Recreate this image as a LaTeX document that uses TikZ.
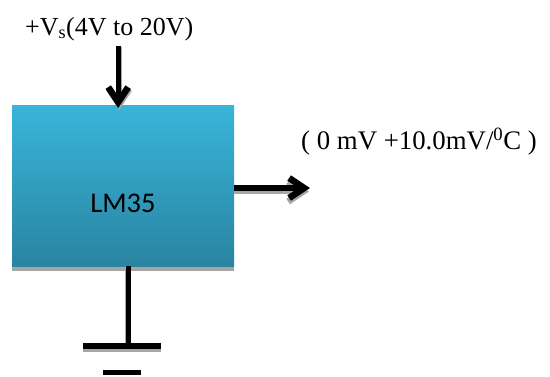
\documentclass[tikz,border=0pt]{standalone}
\usepackage{fontspec}
\setmainfont{Liberation Serif}
\newfontfamily\lblfont{Carlito}
\usetikzlibrary{arrows.meta,positioning}
\definecolor{boxtop}{HTML}{38B5D9}
\definecolor{boxbot}{HTML}{2A84A2}
\definecolor{shadecol}{HTML}{A6A6A6}
\tikzset{
  x=1pt,y=-1pt,
  chip/.style={minimum width=222pt,minimum height=161pt,inner sep=0pt,top color=boxtop,bottom color=boxbot},
  wire/.style={line width=5.4pt,black},
  wireshade/.style={line width=5.4pt,shadecol},
  tip/.style={-{Straight Barb[length=15pt,width=20pt,line width=6.5pt]}},
  lbl/.style={inner sep=0pt,anchor=base west,font=\fontsize{26}{30}\selectfont},
}
\begin{document}
\begin{tikzpicture}
\useasboundingbox (0,0) rectangle (550,376);
\fill[white] (0,0) rectangle (550,376);
\fill[shadecol] (12,262) rectangle (234,271);
\node[chip] (ic) at (123,185.5) {};
\node[font=\lblfont\fontsize{28.5}{32}\selectfont,inner sep=0pt] (name) at (123,203) {LM35};
% coordinates
\coordinate (vin) at (118.2,46);
\coordinate (vout) at (118.2,108);
\coordinate (oa) at (234,188);
\coordinate (ob) at (310,188);
\coordinate (ga) at (128.2,266);
\coordinate (gb) at (128.2,349);
\coordinate (b1l) at (83,346);
\coordinate (b1r) at (160.5,346);
\coordinate (b2l) at (103,372.5);
\coordinate (b2r) at (141,372.5);
% shadows
\draw[wireshade,tip] ([xshift=1pt,yshift=-1pt]vin) -- ([xshift=1pt,yshift=-2pt]vout);
\draw[wireshade,tip] ([yshift=-3.5pt]oa) -- ([xshift=-1pt,yshift=-3.5pt]ob);
\draw[line width=2pt,shadecol] ([xshift=-2.5pt]ga) -- ([xshift=-2.5pt]gb);
\draw[wireshade] ([yshift=-3.5pt]b1l) -- ([yshift=-3.5pt]b1r);
% connectors
\draw[wire,tip] (vin) -- (vout);
\draw[wire,tip] (oa) -- (ob);
\draw[wire] (ga) -- (gb);
\draw[wire] (b1l) -- (b1r);
\draw[wire] (b2l) -- (b2r);
% labels
\node[lbl] (vs) at (25,35) {+V\textsubscript{s}(4V to 20V)};
\node[lbl,font=\fontsize{26.8}{30}\selectfont] (out) at (301,149.5) {( 0 mV +10.0mV/\textsuperscript{0}C )};
\end{tikzpicture}
\end{document}
